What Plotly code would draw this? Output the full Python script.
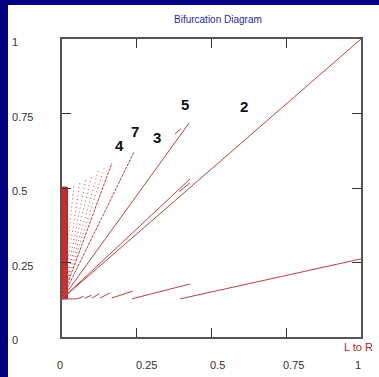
import plotly.graph_objects as go

# ---- data ----
origin_y = 0.128

# solid rays from the common origin (end x, end y)
ray_end_x = [1.0, 0.428, 0.425]
ray_end_y = [1.0, 0.530, 0.718]

# finely dotted rays (labelled 7 and 4)
fine_end_x = [0.241, 0.167]
fine_end_y = [0.621, 0.584]

# dotted rays near the left edge
dot_end_x = [0.144, 0.122, 0.100, 0.080, 0.060, 0.040]
dot_end_y = [0.575, 0.560, 0.545, 0.530, 0.518, 0.508]

# lower sawtooth branch segments (x0, y0, x1, y1)
low_x0 = [0.0, 0.050, 0.075, 0.100, 0.127, 0.167, 0.234, 0.395]
low_y0 = [0.128, 0.128, 0.130, 0.130, 0.131, 0.131, 0.128, 0.128]
low_x1 = [0.050, 0.072, 0.098, 0.124, 0.161, 0.237, 0.428, 1.0]
low_y1 = [0.128, 0.136, 0.140, 0.145, 0.148, 0.154, 0.178, 0.262]

# small offset glitch segments
gl_x0 = [0.378, 0.392]
gl_y0 = [0.682, 0.488]
gl_x1 = [0.398, 0.428]
gl_y1 = [0.699, 0.517]

# dense block at the left
block_x = [0.0, 0.018, 0.018, 0.0]
block_y = [0.128, 0.128, 0.503, 0.503]

tick_vals = [0, 0.25, 0.5, 0.75, 1]
tick_text = ["0", "0.25", "0.5", "0.75", "1"]

branch_labels = ["2", "3", "4", "5", "7"]
branch_lx = [0.609, 0.318, 0.191, 0.411, 0.244]
branch_ly = [0.775, 0.671, 0.641, 0.779, 0.691]

RED = "#bf4040"


def seg_xy(x0, y0, x1, y1):
    xs, ys = [], []
    for a, b, c, d in zip(x0, y0, x1, y1):
        xs += [a, c, None]
        ys += [b, d, None]
    return xs, ys


fig = go.Figure()

# block
fig.add_trace(go.Scatter(x=block_x, y=block_y, fill="toself", mode="lines",
                         fillcolor="rgba(200,20,20,0.9)",
                         line=dict(color="rgba(190,20,20,1)", width=1),
                         hoverinfo="skip"))

# rays
xs, ys = seg_xy([0] * len(ray_end_x), [origin_y] * len(ray_end_x), ray_end_x, ray_end_y)
fig.add_trace(go.Scatter(x=xs, y=ys, mode="lines", line=dict(color=RED, width=1)))

xs, ys = seg_xy([0] * len(fine_end_x), [origin_y] * len(fine_end_x), fine_end_x, fine_end_y)
fig.add_trace(go.Scatter(x=xs, y=ys, mode="lines",
                         line=dict(color=RED, width=1, dash="3px,1px")))

# dotted rays
xs, ys = seg_xy([0] * len(dot_end_x), [origin_y] * len(dot_end_x), dot_end_x, dot_end_y)
fig.add_trace(go.Scatter(x=xs, y=ys, mode="lines",
                         line=dict(color="#c64a4a", width=1, dash="1px,3px")))

# lower branch
xs, ys = seg_xy(low_x0, low_y0, low_x1, low_y1)
fig.add_trace(go.Scatter(x=xs, y=ys, mode="lines", line=dict(color=RED, width=1)))

# glitches
xs, ys = seg_xy(gl_x0, gl_y0, gl_x1, gl_y1)
fig.add_trace(go.Scatter(x=xs, y=ys, mode="lines", line=dict(color=RED, width=1)))

axis_common = dict(range=[0, 1], showgrid=False, zeroline=False, showticklabels=False,
                   showline=True, linecolor="#555555", linewidth=1.5, mirror="ticks",
                   ticks="inside", ticklen=9, tickcolor="#333333", tickwidth=1,
                   tickvals=[0.25, 0.5, 0.75], fixedrange=True)

fig.update_layout(
    width=379, height=377, autosize=False,
    margin=dict(l=62, r=18, t=39, b=40),
    paper_bgcolor="white", plot_bgcolor="white",
    showlegend=False,
    xaxis=axis_common, yaxis=axis_common,
    font=dict(family="Liberation Sans, Arial, sans-serif"),
)

ann = []
# title
ann.append(dict(text="Bifurcation Diagram", xref="paper", yref="paper",
                x=(218 - 62) / 299, y=(337 - 20) / 298, showarrow=False,
                xanchor="center", yanchor="middle",
                font=dict(size=10, color="#2b2ba0")))
# y tick labels
for v, t in zip(tick_vals, tick_text):
    ann.append(dict(text=t, xref="paper", yref="y", x=(10 - 62) / 299, y=v,
                    xanchor="left", yanchor="middle", yshift=-3, showarrow=False,
                    font=dict(size=11, color="#333333")))
# x tick labels
x_shifts = [-2, 10, 6, 7, -3]
for v, t, s in zip(tick_vals, tick_text, x_shifts):
    ann.append(dict(text=t, xref="x", yref="paper", x=v, y=(337 - 365) / 298,
                    xanchor="center", yanchor="middle", xshift=s, showarrow=False,
                    font=dict(size=11, color="#333333")))
# axis title
ann.append(dict(text="L to R", xref="paper", yref="paper",
                x=(358 - 62) / 299, y=(337 - 347) / 298, showarrow=False,
                xanchor="center", yanchor="middle",
                font=dict(size=11, color="#b02828")))
# branch labels
for t, lx, ly in zip(branch_labels, branch_lx, branch_ly):
    ann.append(dict(text="<b>" + t + "</b>", x=lx, y=ly, xref="x", yref="y", showarrow=False,
                    xanchor="center", yanchor="middle",
                    font=dict(size=15, color="#111111")))
fig.update_layout(annotations=ann)

# navy border (top and left)
fig.update_layout(shapes=[
    dict(type="rect", xref="paper", yref="paper", x0=-62 / 299, x1=(8 - 62) / 299,
         y0=-45 / 298, y1=345 / 298, fillcolor="#000080", line=dict(width=0), layer="above"),
    dict(type="rect", xref="paper", yref="paper", x0=-62 / 299, x1=(385 - 62) / 299,
         y0=(337 - 5) / 298, y1=345 / 298, fillcolor="#000080", line=dict(width=0), layer="above"),
])

fig.write_html("out.html")
